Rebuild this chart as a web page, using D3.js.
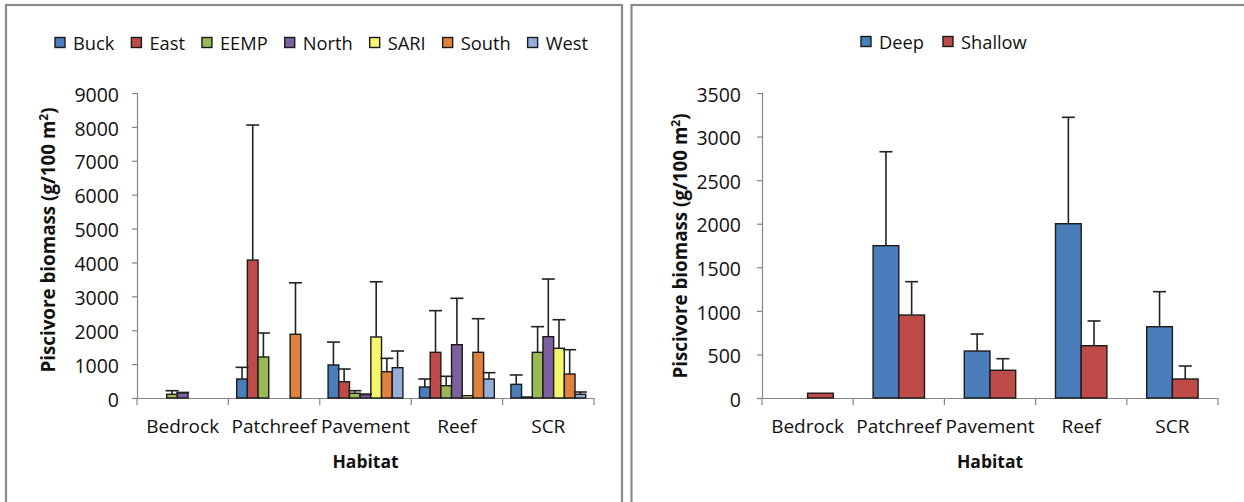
<!DOCTYPE html>
<html>
<head>
<meta charset="utf-8">
<script src="https://cdn.jsdelivr.net/npm/d3@7"></script>
<style>
html,body{margin:0;padding:0;background:#fff;}
svg{display:block;font-family:"Open Sans",sans-serif;}
</style>
</head>
<body>
<svg id="c" width="1244" height="502"></svg>
<script>
// ---------- DATA ----------
const categories = ["Bedrock","Patchreef","Pavement","Reef","SCR"];

// Left chart: sites
const sites = ["Buck","East","EEMP","North","SARI","South","West"];
const buckMean  = [0, 560, 975, 325, 403];
const eastMean  = [0, 4070, 480, 1348, 30];
const eempMean  = [110, 1210, 140, 363, 1348];
const northMean = [150, 0, 100, 1573, 1810];
const sariMean  = [0, 0, 1800, 68, 1466];
const southMean = [0, 1880, 775, 1348, 708];
const westMean  = [0, 0, 895, 560, 110];

const buckErr  = [null, 345, 675, 235, 277];
const eastErr  = [null, 3985, 375, 1229, null];
const eempErr  = [105, 708, 75, 277, 757];
const northErr = [15, null, 15, 1369, 1700];
const sariErr  = [null, null, 1630, null, 844];
const southErr = [null, 1520, 395, 992, 717];
const westErr  = [null, null, 492, 187, 67];

const leftTicks = [0,1000,2000,3000,4000,5000,6000,7000,8000,9000];

// Right chart: depth
const depths = ["Deep","Shallow"];
const deepMean    = [0, 1748, 539, 2000, 818];
const shallowMean = [55, 952, 318, 600, 218];
const deepErr     = [null, 1078, 195, 1221, 402];
const shallowErr  = [null, 383, 133, 284, 149];

const rightTicks = [0,500,1000,1500,2000,2500,3000,3500];

const siteColors  = ["#4A7EBB","#BE4B48","#98B954","#7D60A0","#F6F66E","#E0823D","#94AEDA"];
const depthColors = ["#4A7EBB","#BE4B48"];

// ---------- DRAW ----------
const svg = d3.select("#c");

// panel frames
svg.append("rect").attr("x",6).attr("y",5).attr("width",616).attr("height",520)
  .attr("fill","none").attr("stroke","#8a8a8a").attr("stroke-width",2.2);
svg.append("rect").attr("x",631.5).attr("y",5).attr("width",640).attr("height",520)
  .attr("fill","none").attr("stroke","#8a8a8a").attr("stroke-width",2.2);

function drawChart(cfg){
  const g = svg.append("g");
  const x0 = d3.scaleBand().domain(categories).range([cfg.x0, cfg.x1]).padding(0);
  const n = cfg.series.length, G = 1.55;
  const bw = x0.bandwidth();
  const w = bw/(n+G);
  const off = w*G/2;
  const x1 = d3.scaleBand().domain(cfg.series).range([off, bw-off]).padding(0);
  const y = d3.scaleLinear().domain([0, cfg.max]).range([cfg.yBottom, cfg.yTop]);

  // y axis
  const yAxis = d3.axisLeft(y).tickValues(cfg.ticks).tickSize(5).tickPadding(0).tickFormat(d3.format("d"));
  const ya = g.append("g").attr("transform",`translate(${cfg.x0},0)`).call(yAxis);
  ya.select(".domain").attr("stroke","#868686").attr("stroke-width",1.2).attr("d",`M-5,${cfg.yTop+0.5}H0.5V${cfg.yBottom}`);
  ya.selectAll(".tick line").attr("stroke","#868686").attr("stroke-width",1.2);
  ya.selectAll(".tick text").attr("x",-cfg.labelGap).attr("dy","0.42em")
    .attr("font-size",19.5).attr("fill","#111").attr("font-family","Open Sans");

  // x axis (category boundaries ticks)
  const xa = g.append("g").attr("transform",`translate(0,${cfg.yBottom})`);
  xa.append("line").attr("x1",cfg.x0-5).attr("x2",cfg.x1).attr("y1",0.5).attr("y2",0.5)
    .attr("stroke","#868686").attr("stroke-width",1.2);
  const bounds = categories.map(c=>x0(c)).concat([cfg.x1]);
  xa.selectAll("line.bt").data(bounds).join("line").attr("class","bt")
    .attr("x1",d=>d).attr("x2",d=>d).attr("y1",0).attr("y2",7)
    .attr("stroke","#868686").attr("stroke-width",1.2);
  xa.selectAll("text").data(categories).join("text")
    .attr("x",d=>x0(d)+bw/2).attr("y",35)
    .attr("text-anchor","middle").attr("font-size",19).attr("fill","#111")
    .text(d=>d);

  // bars
  cfg.series.forEach((s,i)=>{
    const means = cfg.means[i], errs = cfg.errs[i];
    const data = categories.map((c,j)=>({c, v:means[j], e:errs[j]}));
    g.append("g").selectAll("rect").data(data.filter(d=>d.v>0)).join("rect")
      .attr("x",d=>x0(d.c)+x1(s)).attr("width",x1.bandwidth())
      .attr("y",d=>y(d.v)).attr("height",d=>y(0)-y(d.v))
      .attr("fill",cfg.colors[i]).attr("stroke","#1a1a1a").attr("stroke-width",1.4);
  });
  // error bars
  cfg.series.forEach((s,i)=>{
    const means = cfg.means[i], errs = cfg.errs[i];
    const data = categories.map((c,j)=>({c, v:means[j], e:errs[j]})).filter(d=>d.e!=null);
    const eg = g.append("g").attr("stroke","#222").attr("stroke-width",1.6);
    data.forEach(d=>{
      const cx = x0(d.c)+x1(s)+x1.bandwidth()/2;
      eg.append("line").attr("x1",cx).attr("x2",cx).attr("y1",y(d.v)).attr("y2",y(d.v+d.e));
      eg.append("line").attr("x1",cx-6.5).attr("x2",cx+6.5).attr("y1",y(d.v+d.e)).attr("y2",y(d.v+d.e));
    });
  });

  // axis titles
  g.append("text").attr("x",(cfg.x0+cfg.x1)/2).attr("y",cfg.yBottom+70)
    .attr("text-anchor","middle").attr("font-size",17.5).attr("font-weight","bold").attr("fill","#111")
    .text("Habitat");
  const yt = g.append("text")
    .attr("transform",`translate(${cfg.titleX},${cfg.titleY}) rotate(-90)`)
    .attr("text-anchor","middle").attr("font-size",18.8).attr("font-weight","bold").attr("fill","#111");
  yt.append("tspan").text("Piscivore biomass (g/100 m");
  yt.append("tspan").attr("font-size",12).attr("dy",-7).text("2");
  yt.append("tspan").attr("dy",7).text(")");

  // legend
  const lg = g.append("g");
  let cx = cfg.legendX;
  cfg.series.forEach((s,i)=>{
    lg.append("rect").attr("x",cx).attr("y",cfg.legendY-5.5).attr("width",10).attr("height",10)
      .attr("fill",cfg.colors[i]).attr("stroke","#1a1a1a").attr("stroke-width",1.4);
    const t = lg.append("text").attr("x",cx+18).attr("y",cfg.legendY).attr("dy","0.36em")
      .attr("font-size",18.3).attr("fill","#111").text(s);
    cx += 18 + t.node().getComputedTextLength() + cfg.legendGap;
  });
}

drawChart({
  x0:137, x1:594, yTop:93, yBottom:398, max:9000, ticks:leftTicks,
  series:sites, colors:siteColors,
  means:[buckMean,eastMean,eempMean,northMean,sariMean,southMean,westMean],
  errs:[buckErr,eastErr,eempErr,northErr,sariErr,southErr,westErr],
  labelGap:18, titleX:55, titleY:240, legendX:55, legendY:43, legendGap:17
});
drawChart({
  x0:762, x1:1218, yTop:93, yBottom:398, max:3500, ticks:rightTicks,
  series:depths, colors:depthColors,
  means:[deepMean,shallowMean], errs:[deepErr,shallowErr],
  labelGap:21, titleX:687, titleY:246, legendX:861, legendY:42, legendGap:19
});
</script>
</body>
</html>
